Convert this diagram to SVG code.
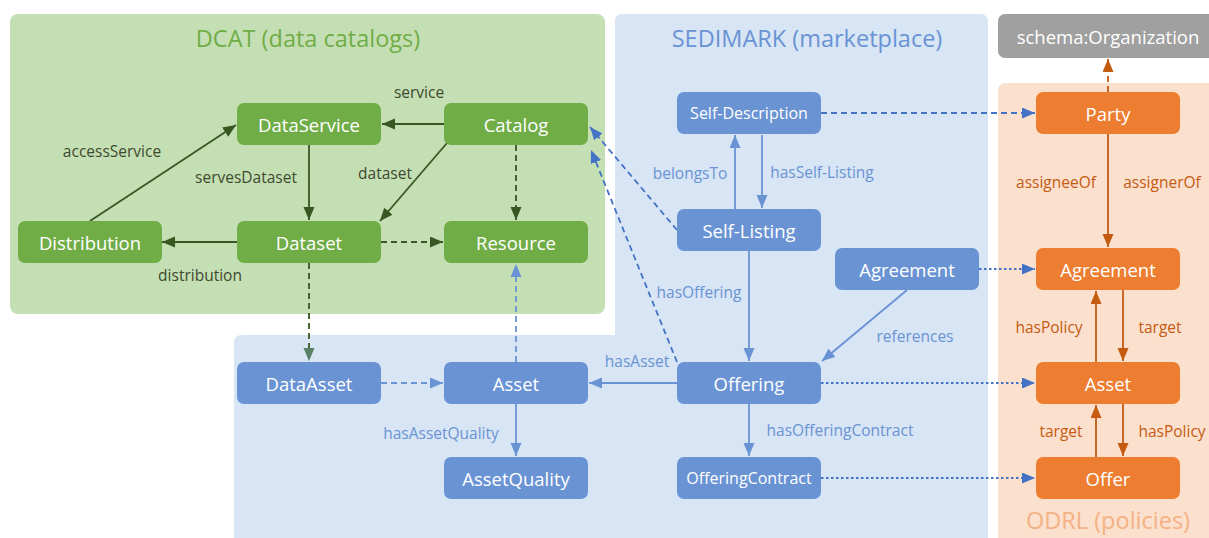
<svg xmlns="http://www.w3.org/2000/svg" width="1209" height="538" viewBox="0 0 1209 538">
<style>
text{font-family:"Open Sans","Noto Sans","Liberation Sans",sans-serif;text-anchor:middle;dominant-baseline:central}
.nt{font-size:18.5px;fill:#fff}
.ns{font-size:16px;fill:#fff}
.gn{fill:#70AD47}
.bn{fill:#6A93D4}
.on{fill:#ED7D31}
.gl{font-size:15.5px;fill:#3E4A30}
.bl{font-size:15.5px;fill:#6A93D4}
.ol{font-size:15.5px;fill:#C55A11}
.ttl{font-size:23.5px}
.c{fill:none;stroke-width:1.8}
.cg{stroke:#385723;marker-end:url(#ag)}
.cg2{stroke:#385723;marker-end:url(#ag2)}
.cb{stroke:#6A93D4;marker-end:url(#ab)}
.cbd{stroke:#4472C4;marker-end:url(#abd)}
.co{stroke:#C55A11;marker-end:url(#ao)}
.dash{stroke-dasharray:6 4}
.dot{stroke-dasharray:2.5 2.5}
</style>
<defs>
<marker id="ag" markerUnits="userSpaceOnUse" markerWidth="14" markerHeight="12" refX="13" refY="5.5" orient="auto"><path d="M0,0 L13,5.5 L0,11 z" fill="#385723"/></marker>
<marker id="ag2" markerUnits="userSpaceOnUse" markerWidth="14" markerHeight="12" refX="13" refY="5.5" orient="auto"><path d="M0,0 L13,5.5 L0,11 z" fill="#5B7F66"/></marker>
<marker id="ab" markerUnits="userSpaceOnUse" markerWidth="14" markerHeight="12" refX="13" refY="5.5" orient="auto"><path d="M0,0 L13,5.5 L0,11 z" fill="#6A93D4"/></marker>
<marker id="abd" markerUnits="userSpaceOnUse" markerWidth="14" markerHeight="12" refX="13" refY="5.5" orient="auto"><path d="M0,0 L13,5.5 L0,11 z" fill="#4472C4"/></marker>
<marker id="ao" markerUnits="userSpaceOnUse" markerWidth="14" markerHeight="12" refX="13" refY="5.5" orient="auto"><path d="M0,0 L13,5.5 L0,11 z" fill="#C55A11"/></marker>
</defs>
<rect width="1209" height="538" fill="#fff"/>
<g id="panels">
<rect x="10" y="14" width="595" height="300" rx="8" fill="#C5DFB4"/>
<path d="M623,14 H980 Q988,14 988,22 V538 H234 V343 Q234,335 242,335 H615 V22 Q615,14 623,14 Z" fill="#D7E5F5"/>
<path d="M1006,83 H1209 V538 H998 V91 Q998,83 1006,83 Z" fill="#FBE0CE"/>
<text class="ttl" x="308" y="38" fill="#70AD47">DCAT (data catalogs)</text>
<text class="ttl" x="807" y="38" fill="#6A93D4">SEDIMARK (marketplace)</text>
<text class="ttl" x="1108" y="520" fill="#F4B183">ODRL (policies)</text>
</g>
<g id="connectors">
<line class="c cg" x1="444" y1="124" x2="382" y2="124"/>
<line class="c cg" x1="90" y1="221" x2="236" y2="125"/>
<line class="c cg" x1="309" y1="145" x2="309" y2="220"/>
<line class="c cg" x1="447" y1="143" x2="380" y2="221"/>
<line class="c cg dash" x1="516" y1="145" x2="516" y2="220"/>
<line class="c cg dash" x1="381" y1="242" x2="443" y2="242"/>
<line class="c cg" x1="237" y1="242" x2="162" y2="242"/>
<line class="c cg2 dash" x1="309" y1="263" x2="309" y2="361"/>
<line class="c cbd dash" x1="821" y1="113" x2="1035" y2="113"/>
<line class="c cb" x1="735" y1="209" x2="735" y2="135"/>
<line class="c cb" x1="762" y1="135" x2="762" y2="208"/>
<line class="c cb" x1="749" y1="251" x2="749" y2="361"/>
<line class="c cbd dash" x1="677" y1="230" x2="590" y2="127"/>
<line class="c cbd dash" x1="677" y1="362" x2="591" y2="150"/>
<line class="c cb" x1="907" y1="290" x2="822" y2="361"/>
<line class="c cbd dot" x1="979" y1="269" x2="1035" y2="269"/>
<line class="c cb" x1="677" y1="383" x2="589" y2="383"/>
<line class="c cbd dot" x1="821" y1="383" x2="1035" y2="383"/>
<line class="c cb" x1="749" y1="404" x2="749" y2="456"/>
<line class="c cbd dot" x1="821" y1="478" x2="1035" y2="478"/>
<line class="c cb dash" x1="381" y1="383" x2="443" y2="383"/>
<line class="c cb dash" x1="516" y1="362" x2="516" y2="264"/>
<line class="c cb" x1="516" y1="404" x2="516" y2="456"/>
<line class="c co dash" x1="1108" y1="92" x2="1108" y2="59"/>
<line class="c co" x1="1108" y1="134" x2="1108" y2="247"/>
<line class="c co" x1="1096" y1="362" x2="1096" y2="291"/>
<line class="c co" x1="1123" y1="290" x2="1123" y2="361"/>
<line class="c co" x1="1096" y1="457" x2="1096" y2="405"/>
<line class="c co" x1="1123" y1="404" x2="1123" y2="456"/>
<text class="gl" x="419" y="92">service</text>
<text class="gl" x="112" y="151">accessService</text>
<text class="gl" x="246" y="177">servesDataset</text>
<text class="gl" x="385" y="173">dataset</text>
<text class="gl" x="200" y="275">distribution</text>
<text class="bl" x="690" y="173">belongsTo</text>
<text class="bl" x="822" y="172">hasSelf-Listing</text>
<text class="bl" x="699" y="292">hasOffering</text>
<text class="bl" x="915" y="336">references</text>
<text class="bl" x="637" y="361">hasAsset</text>
<text class="bl" x="840" y="430">hasOfferingContract</text>
<text class="bl" x="441" y="433">hasAssetQuality</text>
<text class="ol" x="1056" y="182">assigneeOf</text>
<text class="ol" x="1162" y="182">assignerOf</text>
<text class="ol" x="1049" y="327">hasPolicy</text>
<text class="ol" x="1160" y="327">target</text>
<text class="ol" x="1061" y="431">target</text>
<text class="ol" x="1172" y="431">hasPolicy</text>
</g>
<g id="n-dataservice"><rect class="gn" x="237" y="103" width="144" height="42" rx="7"/><text class="nt" x="309" y="124">DataService</text></g>
<g id="n-catalog"><rect class="gn" x="444" y="103" width="144" height="42" rx="7"/><text class="nt" x="516" y="124">Catalog</text></g>
<g id="n-distribution"><rect class="gn" x="18" y="221" width="144" height="42" rx="7"/><text class="nt" x="90" y="242">Distribution</text></g>
<g id="n-dataset"><rect class="gn" x="237" y="221" width="144" height="42" rx="7"/><text class="nt" x="309" y="242">Dataset</text></g>
<g id="n-resource"><rect class="gn" x="444" y="221" width="144" height="42" rx="7"/><text class="nt" x="516" y="242">Resource</text></g>
<g id="n-selfdescription"><rect class="bn" x="677" y="92" width="144" height="42" rx="7"/><text class="ns" x="749" y="113">Self-Description</text></g>
<g id="n-selflisting"><rect class="bn" x="677" y="209" width="144" height="42" rx="7"/><text class="nt" x="749" y="230">Self-Listing</text></g>
<g id="n-agreement-s"><rect class="bn" x="835" y="248" width="144" height="42" rx="7"/><text class="nt" x="907" y="269">Agreement</text></g>
<g id="n-offering"><rect class="bn" x="677" y="362" width="144" height="42" rx="7"/><text class="nt" x="749" y="383">Offering</text></g>
<g id="n-offeringcontract"><rect class="bn" x="677" y="457" width="144" height="42" rx="7"/><text class="ns" x="749" y="478">OfferingContract</text></g>
<g id="n-dataasset"><rect class="bn" x="237" y="362" width="144" height="42" rx="7"/><text class="nt" x="309" y="383">DataAsset</text></g>
<g id="n-asset-s"><rect class="bn" x="444" y="362" width="144" height="42" rx="7"/><text class="nt" x="516" y="383">Asset</text></g>
<g id="n-assetquality"><rect class="bn" x="444" y="457" width="144" height="42" rx="7"/><text class="nt" x="516" y="478">AssetQuality</text></g>
<g id="n-organization"><rect x="998" y="14" width="220" height="44" rx="7" fill="#A0A0A0"/><text x="1108" y="36" style="font-size:18.5px;fill:#fff">schema:Organization</text></g>
<g id="n-party"><rect class="on" x="1036" y="92" width="144" height="42" rx="7"/><text class="nt" x="1108" y="113">Party</text></g>
<g id="n-agreement-o"><rect class="on" x="1036" y="248" width="144" height="42" rx="7"/><text class="nt" x="1108" y="269">Agreement</text></g>
<g id="n-asset-o"><rect class="on" x="1036" y="362" width="144" height="42" rx="7"/><text class="nt" x="1108" y="383">Asset</text></g>
<g id="n-offer"><rect class="on" x="1036" y="457" width="144" height="42" rx="7"/><text class="nt" x="1108" y="478">Offer</text></g>
</svg>
